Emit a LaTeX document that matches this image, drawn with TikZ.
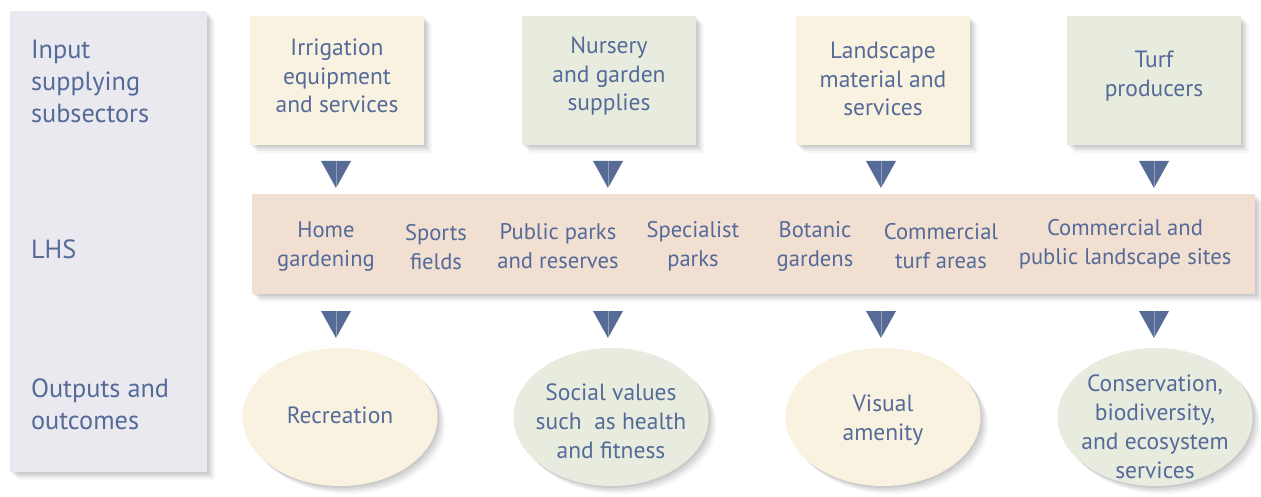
\documentclass[tikz,border=0pt]{standalone}
\usepackage{fontspec}
\setmainfont{PT Sans}
\usetikzlibrary{shapes.geometric,shadows}
\definecolor{txt}{RGB}{84,106,152}
\definecolor{panel}{RGB}{234,233,239}
\definecolor{cream}{RGB}{250,242,224}
\definecolor{sage}{RGB}{232,236,223}
\definecolor{peach}{RGB}{241,223,209}
\definecolor{tri}{RGB}{86,107,150}
\tikzset{
  softshadow/.style={
    drop shadow={shadow xshift=2pt,shadow yshift=-2pt,opacity=0.07,fill=black},
    drop shadow={shadow xshift=4pt,shadow yshift=-4pt,opacity=0.06,fill=black},
    drop shadow={shadow xshift=6pt,shadow yshift=-6pt,opacity=0.05,fill=black},
    drop shadow={shadow xshift=8pt,shadow yshift=-8pt,opacity=0.03,fill=black}},
  inbox/.style={rectangle,softshadow,minimum width=174pt,minimum height=129pt,inner sep=0pt},
  outell/.style={ellipse,softshadow,minimum width=195pt,minimum height=138pt,inner sep=0pt},
  boxtxt/.style={text=txt,align=center,font=\fontsize{23.5}{28.5}\selectfont},
  elltxt/.style={text=txt,align=center,font=\fontsize{23.5}{29}\selectfont},
  bandtxt/.style={text=txt,align=center,font=\fontsize{22.6}{29}\selectfont},
  sidetxt/.style={text=txt,align=left,anchor=west,font=\fontsize{26.3}{32}\selectfont},
  downtri/.pic={
    \fill[tri] (-15,0) -- (15,0) -- (0,27) -- cycle;
    \draw[white,opacity=0.35,line width=0.6pt] (0,0) -- (0,27);
  }
}
\begin{document}
\begin{tikzpicture}[x=1pt,y=-1pt]
\useasboundingbox[fill=white] (0,0) rectangle (1261,497);
% left panel
\node[rectangle,fill=panel,softshadow,minimum width=197pt,minimum height=461pt,inner sep=0pt] (panel) at (108.5,241.5) {};
\node[sidetxt] (lab1) at (27.5,81) {Input\\supplying\\subsectors};
\node[sidetxt] (lab2) at (27.5,249) {LHS};
\node[sidetxt] (lab3) at (27.5,404) {Outputs and\\outcomes};
% input boxes
\node[inbox,fill=cream] (irr) at (337,80.5) {};
\node[boxtxt] (irrt) at (337,76) {Irrigation\\equipment\\and services};
\node[inbox,fill=sage] (nur) at (609,80.5) {};
\node[boxtxt] (nurt) at (609,76) {Nursery\\and garden\\supplies};
\node[inbox,fill=cream] (lan) at (883,80.5) {};
\node[boxtxt] (lant) at (883,79) {Landscape\\material and\\services};
\node[inbox,fill=sage] (tur) at (1154,80.5) {};
\node[boxtxt] (turt) at (1154,76) {Turf\\producers};
% triangles top
\pic at (336,161) {downtri};
\pic at (608,161) {downtri};
\pic at (881,161) {downtri};
\pic at (1154,161) {downtri};
% LHS band
\node[rectangle,fill=peach,softshadow,minimum width=1003pt,minimum height=100pt,inner sep=0pt] (band) at (753.5,244) {};
\node[bandtxt] (b1) at (326,246) {Home\\gardening};
\node[bandtxt] (b2) at (436,247) {Sports\\fields};
\node[bandtxt] (b3) at (558,246) {Public parks\\and reserves};
\node[bandtxt] (b4) at (693,246) {Specialist\\parks};
\node[bandtxt] (b5) at (815,246) {Botanic\\gardens};
\node[bandtxt] (b6) at (941,246) {Commercial\\turf areas};
\node[bandtxt] (b7) at (1125,244) {Commercial and\\public landscape sites};
% triangles bottom
\pic at (336,311) {downtri};
\pic at (608,311) {downtri};
\pic at (881,311) {downtri};
\pic at (1154,311) {downtri};
% outcome ellipses
\node[outell,fill=cream] (o1) at (340,417) {};
\node[elltxt] (o1t) at (340,415) {Recreation};
\node[outell,fill=sage] (o2) at (611,417) {};
\node[elltxt] (o2t) at (611,421) {Social values\\such\ \ as health\\and fitness};
\node[outell,fill=cream] (o3) at (883,417) {};
\node[elltxt] (o3t) at (883,420) {Visual\\amenity};
\node[outell,fill=sage] (o4) at (1155,417) {};
\node[elltxt] (o4t) at (1155,427) {Conservation,\\biodiversity,\\and ecosystem\\services};
\end{tikzpicture}
\end{document}
